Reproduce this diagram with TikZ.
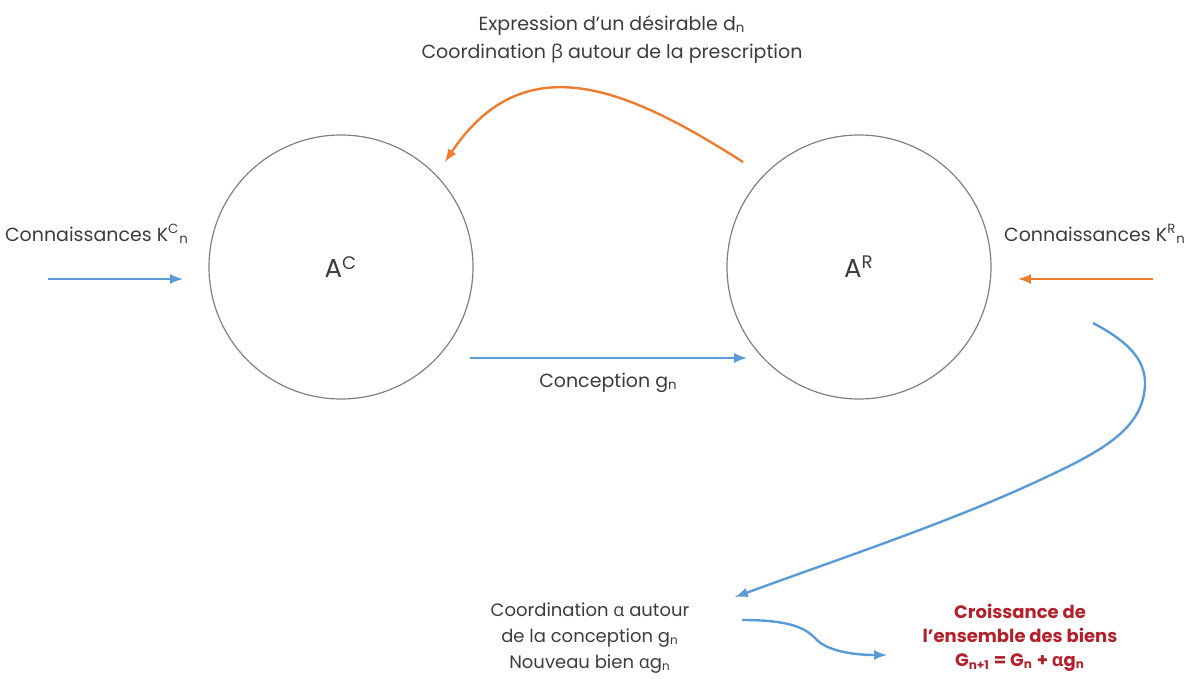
\documentclass[tikz,border=0pt]{standalone}
\usepackage{fontspec}
\usepackage{xcolor}
\setmainfont{Poppins}
\newfontfamily\grk{Open Sans}
\usetikzlibrary{calc, arrows, shapes, positioning}

\definecolor{bleu}{RGB}{91,155,213}
\definecolor{orangeR}{RGB}{237,125,49}
\definecolor{rougeB}{RGB}{178,34,44}
\definecolor{gris}{RGB}{60,60,60}

\newcommand{\alp}{{\grk α}}
\newcommand{\bet}{{\grk β}}

\begin{document}
\begin{tikzpicture}[x=0.5pt, y=-0.5pt,
  agent/.style={draw=gray, line width=0.6pt, shape=circle, minimum size=132pt, text=gris, font=\fontsize{13}{15}\selectfont},
  txt/.style={text=gris, align=center, font=\fontsize{9.5}{14}\selectfont},
  biens/.style={text=rougeB, align=center, font=\bfseries\fontsize{9}{12}\selectfont},
  bleuf/.style={draw=bleu, line width=1.2pt, -latex},
  orangef/.style={draw=orangeR, line width=1.2pt, -latex}
  ]
  \useasboundingbox (0,0) rectangle (1190,679);

  \draw node[agent] (AC) at (341,267) {A\textsuperscript{C}}
    node[agent] (AR) at (859,267) {A\textsuperscript{R}};

  % connaissances
  \coordinate (kc0) at (48,279);
  \coordinate (kc1) at (183,279);
  \coordinate (kr0) at (1153,279);
  \coordinate (kr1) at (1018,279);
  \draw node[txt] (kc) at (97,234) {Connaissances K\textsuperscript{C}\textsubscript{n}}
    node[txt] (kr) at (1095,234) {Connaissances K\textsuperscript{R}\textsubscript{n}};
  \draw[bleuf] (kc0) -- (kc1);
  \draw[orangef] (kr0) -- (kr1);

  % conception
  \coordinate (g0) at (470,358);
  \coordinate (g1) at (747,358);
  \coordinate (gm) at ($(g0)!0.5!(g1)$);
  \draw[bleuf] (g0) -- (g1);
  \draw node[txt, below=4pt of gm] (concep) {Conception g\textsubscript{n}};

  % prescription
  \coordinate (d0) at (743,162);
  \coordinate (d1) at (445,162);
  \draw[orangef] (d0) .. controls (630,90) and (525,42) .. (d1);
  \draw node[txt] (pres) at (612,40) {Expression d'un désirable d\textsubscript{n}\\Coordination \bet{} autour de la prescription};

  % nouveau bien
  \coordinate (a0) at (1093,323);
  \coordinate (a1) at (735,597);
  \draw[bleuf] (a0) .. controls (1125,340) and (1146,358) .. (1145,385)
    .. controls (1143,430) and (1100,452) .. (1040,480)
    .. controls (950,522) and (850,555) .. (a1);
  \draw node[txt, font=\fontsize{9}{13}\selectfont] (coord) at (590,638) {Coordination \alp{} autour\\de la conception g\textsubscript{n}\\Nouveau bien \alp g\textsubscript{n}};

  % croissance
  \coordinate (w0) at (742,620);
  \coordinate (w1) at (887,655);
  \draw node[biens] (crois) at (1020,638) {Croissance de\\l'ensemble des biens\\G\textsubscript{n+1} = G\textsubscript{n} + \alp g\textsubscript{n}};
  \draw[bleuf] (w0) .. controls (790,620) and (805,628) .. (815,638)
    .. controls (825,650) and (850,655) .. (w1);
\end{tikzpicture}
\end{document}
